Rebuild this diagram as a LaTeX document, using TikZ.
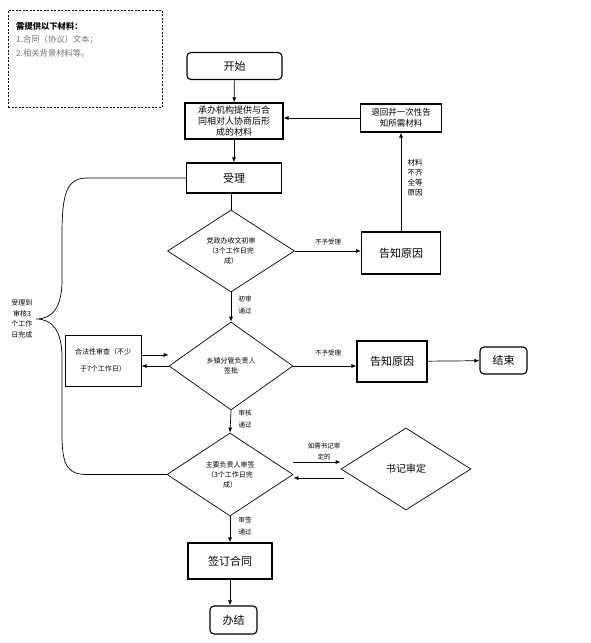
\documentclass[tikz,border=0pt]{standalone}
\usepackage{fontspec}
\setmainfont{Noto Sans CJK SC}
\usetikzlibrary{shapes.geometric,arrows.meta}
\tikzset{
  box/.style={draw, line width=1.1pt, inner sep=1pt, align=center, font=\fontsize{11}{13}\selectfont},
  endbox/.style={box, rounded corners=4pt},
  choice/.style={draw, diamond, line width=0.7pt, inner sep=0pt, align=center, font=\fontsize{7}{10}\selectfont},
  arr/.style={-{Latex[length=5pt,width=4pt]}, line width=0.7pt},
  lbl/.style={font=\fontsize{6.5}{11.5}\selectfont, align=center, inner sep=0pt}
}
\newcommand{\smalltext}{\fontsize{9}{11}\selectfont}
\newcommand{\greytext}{black!55}

\begin{document}
\begin{tikzpicture}[x=1pt,y=-1pt]
 \useasboundingbox (0,0) rectangle (590,643);

 % materials list
 \node[draw, dash pattern=on 2pt off 1.5pt, line width=0.6pt, minimum width=154pt, minimum height=97pt, anchor=north west] (need) at (8,10) {};
 \node[anchor=north west, align=left, inner sep=0pt, font=\fontsize{8.3}{13.5}\selectfont] (needtxt) at (16,22)
   {\textbf{需提供以下材料：}\\ \textcolor{\greytext}{1.合同（协议）文本；}\\ \textcolor{\greytext}{2.相关背景材料等。}};

 % main column
 \node[endbox, minimum width=95pt, minimum height=27pt] (start) at (234.5,66) {开始};
 \node[box, minimum width=98pt, minimum height=36pt, inner sep=0pt, font=\smalltext] (cb) at (234,121) {承办机构提供与合\\同相对人协商后形\\成的材料};
 \node[box, minimum width=95pt, minimum height=30pt] (sl) at (234,178) {受理};
 \node[choice, minimum width=127pt, minimum height=82pt] (d1) at (231,251) {党政办收文初审\\（3个工作日完\\成）};
 \node[choice, minimum width=124pt, minimum height=88pt] (d2) at (231,366) {乡镇分管负责人\\签批};
 \node[choice, minimum width=126pt, minimum height=83pt] (d3) at (230,474.5) {主要负责人审签\\（3个工作日完\\成）};
 \node[box, minimum width=84pt, minimum height=36pt] (qd) at (230,561) {签订合同};
 \node[endbox, minimum width=47pt, minimum height=28pt] (bj) at (233.5,620) {办结};

 % right column
 \node[box, minimum width=81pt, minimum height=28pt, inner sep=0pt, font=\fontsize{8.5}{11}\selectfont] (th) at (401,118) {退回并一次性告\\知所需材料};
 \node[box, minimum width=79pt, minimum height=42pt] (gz1) at (401,253) {告知原因};
 \node[box, minimum width=70pt, minimum height=41pt] (gz2) at (392,361.5) {告知原因};
 \node[endbox, minimum width=47pt, minimum height=27pt] (js) at (503.5,360.5) {结束};
 \node[choice, minimum width=130pt, minimum height=82pt, font=\fontsize{10}{12}\selectfont] (sj) at (406,469) {书记审定};

 % left
 \node[box, minimum width=76pt, minimum height=51pt, line width=1pt, font=\fontsize{7}{17}\selectfont] (hf) at (103,360.5) {合法性审查（不少\\于7个工作日）};

 % connectors
 \draw[arr] (start) -- (cb);
 \draw[arr] (cb) -- (sl);
 \draw[line width=0.7pt] (sl.south -| d1.north) -- (d1.north);
 \draw[arr] (d1.south) -- (d2.north);
 \draw[arr] (d2.south) -- (d3.north);
 \draw[arr] (d3.south) -- (qd.north -| d3.south);
 \draw[arr] (qd) -- (bj.north -| qd.south);
 \draw[arr] (d1.east) -- (d1.east -| gz1.west);
 \draw[arr] (gz1) -- (th);
 \draw[arr] (th.west) -- (th.west -| cb.east);
 \draw[arr] (d2.east) -- (d2.east -| gz2.west);
 \draw[arr] (gz2) -- (js);
 \draw[arr] ([yshift=5.5pt]hf.east) -- ([yshift=5.5pt]hf.east -| d2.west);
 \draw[arr] (d2.west) -- (d2.west -| hf.east);
 \draw[arr] ([yshift=12.5pt]d3.east) -- ([yshift=12.5pt]d3.east -| sj.west);
 \draw[arr] ([yshift=-3.5pt,xshift=3pt]d3.east -| sj.west) -- ([yshift=-3.5pt]d3.east);

 % connector labels
 \node[lbl] (n1) at (328,242) {不予受理};
 \node[lbl] (n2) at (328,353) {不予受理};
 \node[lbl, font=\fontsize{7.5}{10}\selectfont] (n3) at (415,178) {材料\\不齐\\全等\\原因};
 \node[lbl] (n4) at (245,305) {初审\\通过};
 \node[lbl] (n5) at (245,419) {审核\\通过};
 \node[lbl] (n6) at (245,526) {审签\\通过};
 \node[lbl, font=\fontsize{6.5}{11}\selectfont] (n7) at (324,451.5) {如需书记审\\定的};

 % brace
 \draw[line width=0.7pt] (sl.west) -- (87,178) .. controls (66,178) and (62,195) .. (62,235) -- (62,280)
   .. controls (62,308) and (52,319) .. (36,319)
   .. controls (52,319) and (62,330) .. (62,358) -- (62,435)
   .. controls (62,466) and (68,474.5) .. (87,474.5) -- (d3.west);
 \node[lbl, font=\fontsize{7}{10.5}\selectfont] (n8) at (22,319) {受理到\\审核3\\个工作\\日完成};
\end{tikzpicture}
\end{document}
